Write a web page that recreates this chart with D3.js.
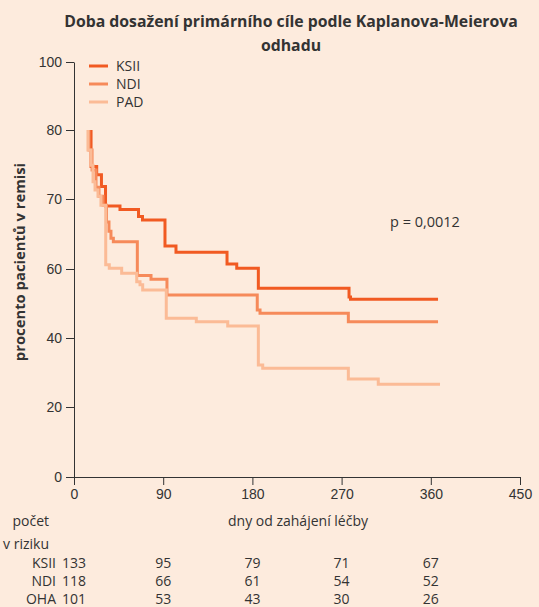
<!DOCTYPE html>
<html>
<head>
<meta charset="utf-8">
<script src="https://cdn.jsdelivr.net/npm/d3@7"></script>
<style>
  body { margin: 0; background: #fdebdd; }
  svg { display: block; font-family: "Open Sans", sans-serif; }
  .axis text { font-size: 14px; fill: #333; }
  .axis path, .axis line { stroke: #333; }
</style>
</head>
<body>
<svg id="chart"></svg>
<script>
// y ticks as printed on the axis (evenly spaced labels)
var yTicks = [0, 20, 40, 60, 70, 80, 100];
var xTicks = [0, 90, 180, 270, 360, 450];
var seriesNames = ["KSII", "NDI", "PAD"];
var riskNames = ["KSII", "NDI", "OHA"];
var riskDays = [0, 90, 180, 270, 360];
var riskKSII = [133, 95, 79, 71, 67];
var riskNDI = [118, 66, 61, 54, 52];
var riskOHA = [101, 53, 43, 30, 26];

// [day, value] step points
var ksii = [[17.2, 80], [17.2, 74.7], [22.9, 73.5], [27.7, 71.8], [31.8, 69], [46.4, 68.5],
    [65.1, 67.5], [69.1, 67], [91.8, 63.3], [102.9, 62.4], [154.4, 60.7], [164.2, 60.1],
    [186, 54.4], [277.5, 51.9], [279, 51.2], [367.3, 51.2]];
var ndi = [[15.1, 80], [15.1, 77.1], [18.2, 74.2], [22.2, 71.7], [25.2, 70.4], [29.3, 69.1],
    [32.8, 66.7], [35.3, 65.4], [37.3, 64.4], [39.7, 63.9], [63.9, 58.1], [77.7, 57],
    [93.8, 52.5], [184.9, 48.1], [187.7, 47.2], [276.8, 44.7], [367.3, 44.7]];
var pad = [[14.1, 80], [14.1, 77.1], [17.2, 74.9], [19.2, 72.5], [21.2, 71.3], [24.2, 70.4],
    [27.2, 69.1], [32.0, 60.6], [35.6, 60.1], [48.1, 58.8], [63.3, 56.3], [66.6, 55.4],
    [69.3, 53.9], [93.1, 45.7], [123.4, 44.7], [155.1, 43.5], [186.0, 32.2], [190.4, 31.2],
    [276.8, 28.1], [307.0, 26.6], [369.3, 26.6]];
var colors = ["#f15a22", "#f68a5a", "#fbbb96"];

var width = 539, height = 607;
var svg = d3.select('#chart')
    .attr('width', width)
    .attr('height', height);

var x = d3.scaleLinear().domain([0, 450]).range([74, 520]);
var y = d3.scaleLinear().domain(yTicks).range([477, 407, 338, 269, 199, 130, 62]);

svg.append('g')
    .attr('class', 'axis')
    .attr('transform', 'translate(0,477)')
    .call(d3.axisBottom(x).tickValues(xTicks).tickSize(8).tickSizeOuter(0).tickPadding(4));

svg.append('g')
    .attr('class', 'axis')
    .attr('transform', 'translate(74,0)')
    .call(d3.axisLeft(y).tickValues(yTicks).tickSize(8).tickSizeOuter(0).tickPadding(4));

var line = d3.line()
    .x(d => x(d[0]))
    .y(d => y(d[1]))
    .curve(d3.curveStepAfter);

[ksii, ndi, pad].forEach((s, i) => {
    svg.append('path')
        .datum(s)
        .attr('d', line)
        .attr('fill', 'none')
        .attr('stroke', colors[i])
        .attr('stroke-width', 3);
});

// legend
seriesNames.forEach((n, i) => {
    svg.append('line')
        .attr('x1', 89).attr('x2', 108)
        .attr('y1', 66 + i * 18).attr('y2', 66 + i * 18)
        .attr('stroke', colors[i]).attr('stroke-width', 3);
    svg.append('text')
        .attr('x', 116).attr('y', 71 + i * 18)
        .attr('font-size', 14).attr('fill', '#333')
        .text(n);
});

// title
svg.append('text')
    .attr('x', 291).attr('y', 27)
    .attr('text-anchor', 'middle')
    .attr('font-size', 15.8).attr('font-weight', 'bold').attr('fill', '#333')
    .text('Doba dosažení primárního cíle podle Kaplanova-Meierova');
svg.append('text')
    .attr('x', 291).attr('y', 51)
    .attr('text-anchor', 'middle')
    .attr('font-size', 15.8).attr('font-weight', 'bold').attr('fill', '#333')
    .text('odhadu');

svg.append('text')
    .attr('transform', 'translate(25,262) rotate(-90)')
    .attr('text-anchor', 'middle')
    .attr('font-size', 14.8).attr('font-weight', 'bold').attr('fill', '#333')
    .text('procento pacientů v remisi');

svg.append('text')
    .attr('x', 298).attr('y', 526)
    .attr('text-anchor', 'middle')
    .attr('font-size', 14).attr('fill', '#333')
    .text('dny od zahájení léčby');

svg.append('text')
    .attr('x', 390).attr('y', 227)
    .attr('font-size', 14.5).attr('fill', '#333')
    .text('p = 0,0012');

// risk table
svg.append('text')
    .attr('x', 49).attr('y', 526)
    .attr('text-anchor', 'end')
    .attr('font-size', 14).attr('fill', '#333')
    .text('počet');
svg.append('text')
    .attr('x', 49).attr('y', 549)
    .attr('text-anchor', 'end')
    .attr('font-size', 14).attr('fill', '#333')
    .text('v riziku');

[riskKSII, riskNDI, riskOHA].forEach((row, i) => {
    var yy = 568 + i * 18;
    svg.append('text')
        .attr('x', 56).attr('y', yy)
        .attr('text-anchor', 'end')
        .attr('font-size', 14).attr('fill', '#333')
        .text(riskNames[i]);
    svg.selectAll(null)
        .data(row)
        .enter()
        .append('text')
        .attr('x', (d, j) => j === 0 ? 62 : x(riskDays[j]))
        .attr('y', yy)
        .attr('text-anchor', (d, j) => j === 0 ? 'start' : 'middle')
        .attr('font-size', 14).attr('fill', '#333')
        .text(d => d);
});
</script>
</body>
</html>
